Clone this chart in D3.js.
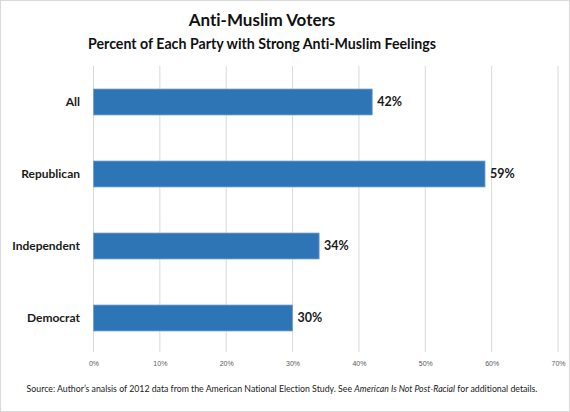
<!DOCTYPE html>
<html><head><meta charset="utf-8">
<script src="https://cdn.jsdelivr.net/npm/d3@7"></script>
<style>
body{margin:0;background:#fff;}
svg{display:block;font-family:Lato,"Open Sans",sans-serif;font-variant-ligatures:none;}
</style></head>
<body>
<svg id="c" width="570" height="412"></svg>
<script>
const categories = ["All","Republican","Independent","Democrat"];
const values = [42,59,34,30];
const labels = ["42%","59%","34%","30%"];
const tickValues = [0,10,20,30,40,50,60,70];

const svg = d3.select("#c");
svg.append("rect").attr("x",0.5).attr("y",0.5).attr("width",569).attr("height",411)
  .attr("fill","#fff").attr("stroke","#d9d9d9");

const x = d3.scaleLinear().domain([0,70]).range([93.5,558]);
const y = d3.scaleBand().domain(categories).range([66,354]).paddingInner(0.64).paddingOuter(0.32);

// grid
svg.append("g").selectAll("line").data(tickValues).join("line")
  .attr("x1",d=>x(d)).attr("x2",d=>x(d)).attr("y1",66).attr("y2",352)
  .attr("stroke","#d9d9d9").attr("stroke-width",1);

// axis labels
const ax = svg.append("g").attr("transform","translate(0,352)")
  .call(d3.axisBottom(x).tickValues(tickValues).tickSize(0).tickFormat(d=>d+"%"));
ax.select(".domain").remove();
ax.selectAll("text").attr("dy",0).attr("y",14).attr("fill","#595959").attr("font-size",7);

// bars
svg.append("g").selectAll("rect").data(values).join("rect")
  .attr("x",x(0)).attr("y",(d,i)=>y(categories[i]))
  .attr("width",d=>x(d)-x(0)).attr("height",y.bandwidth())
  .attr("fill","#2E75B6").attr("stroke","#6fa0d2").attr("stroke-width",0.8);

// value labels
svg.append("g").selectAll("text").data(values).join("text")
  .attr("x",d=>x(d)+5).attr("y",(d,i)=>y(categories[i])+y.bandwidth()/2)
  .attr("dy","0.35em").attr("font-size",12.5).attr("font-weight","bold").attr("fill","#1a1a1a")
  .text((d,i)=>labels[i]);

// category labels
svg.append("g").selectAll("text").data(categories).join("text")
  .attr("x",80).attr("y",d=>y(d)+y.bandwidth()/2).attr("dy","0.35em")
  .attr("text-anchor","end").attr("font-size",12).attr("font-weight","bold").attr("fill","#1a1a1a")
  .text(d=>d);

// titles
svg.append("text").attr("x",262).attr("y",26).attr("text-anchor","middle")
  .attr("font-size",17).attr("font-weight","bold").attr("fill","#111").text("Anti-Muslim Voters");
svg.append("text").attr("x",262).attr("y",49).attr("text-anchor","middle")
  .attr("font-size",14.2).attr("font-weight","bold").attr("fill","#111")
  .text("Percent of Each Party with Strong Anti-Muslim Feelings");

// source
const src = svg.append("text").attr("x",282).attr("y",392).attr("text-anchor","middle")
  .attr("font-size",8.75).attr("fill","#1a1a1a");
src.append("tspan").text("Source: Author\u2019s analsis of 2012 data from the American National Election Study. See ");
src.append("tspan").attr("font-style","italic").text("American Is Not Post-Racial");
src.append("tspan").text(" for additional details.");
</script>
</body></html>
